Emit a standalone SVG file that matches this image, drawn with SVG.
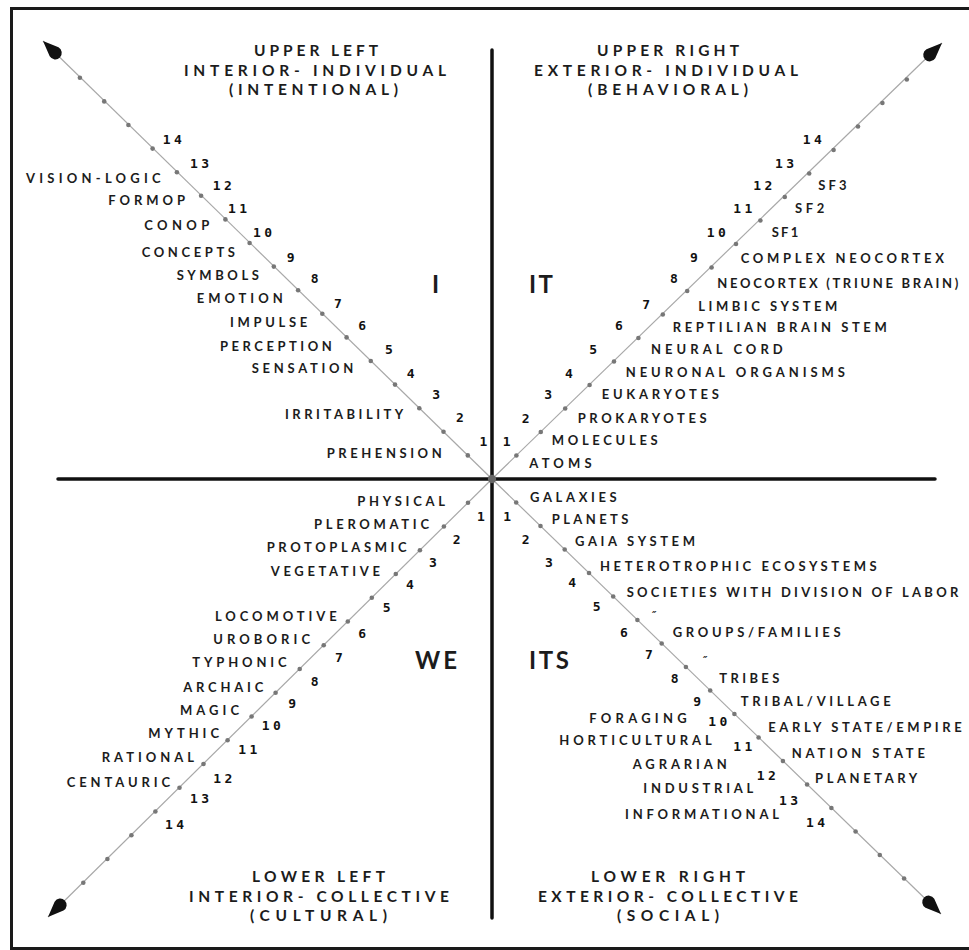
<svg xmlns="http://www.w3.org/2000/svg" width="969" height="950" viewBox="0 0 969 950">
<style>
text{font-family:Lato,"Open Sans","Liberation Sans",sans-serif;font-weight:700;fill:#1c1c1c}
.h{font-size:15.5px}
.l{font-size:13px}
.n{font-family:"DejaVu Sans Mono","Liberation Mono",monospace;font-size:13px;letter-spacing:3.5px;fill:#111}
.big{font-size:24px}
.ditto{font-family:"DejaVu Sans",sans-serif;font-size:10px;font-style:italic}
.diag{stroke:#a8a8a8;stroke-width:1.2;fill:none;marker-end:url(#arr)}
.dot{fill:#777}
.axis{stroke:#111;stroke-width:3.5;stroke-linecap:round}
</style>
<defs>
<marker id="arr" markerUnits="userSpaceOnUse" orient="auto" viewBox="-25 -8 27 16" markerWidth="27" markerHeight="16" refX="0" refY="0">
<path d="M0,0 L-15.5,-6.3 A6.5,6.5 0 1 0 -15.5,6.3 Z" fill="#111"/>
</marker>
</defs>
<rect x="11.5" y="8.5" width="975" height="940" fill="#fff" stroke="#1a1a1a" stroke-width="3"/>

<g id="connectors">
<line class="axis" x1="492" y1="50" x2="492" y2="918"/>
<line class="axis" x1="58" y1="479" x2="935" y2="479"/>
<line class="diag" x1="492" y1="479" x2="43" y2="41"/>
<line class="diag" x1="492" y1="479" x2="942" y2="43"/>
<line class="diag" x1="492" y1="479" x2="48" y2="917"/>
<line class="diag" x1="492" y1="479" x2="941" y2="914"/>
<g id="dots-ul" class="dot">
<circle cx="467.8" cy="455.4" r="2.3"/><circle cx="443.5" cy="431.8" r="2.3"/><circle cx="419.3" cy="408.2" r="2.3"/><circle cx="395" cy="384.6" r="2.3"/><circle cx="370.8" cy="361" r="2.3"/><circle cx="346.6" cy="337.4" r="2.3"/><circle cx="322.3" cy="313.8" r="2.3"/><circle cx="298.1" cy="290.2" r="2.3"/><circle cx="273.8" cy="266.6" r="2.3"/><circle cx="249.6" cy="243" r="2.3"/><circle cx="225.4" cy="219.4" r="2.3"/><circle cx="201.1" cy="195.8" r="2.3"/><circle cx="176.9" cy="172.2" r="2.3"/><circle cx="152.6" cy="148.6" r="2.3"/><circle cx="128.4" cy="125" r="2.3"/><circle cx="104.2" cy="101.4" r="2.3"/><circle cx="79.9" cy="77.8" r="2.3"/>
</g>
<g id="dots-ur" class="dot">
<circle cx="516.4" cy="455.5" r="2.3"/><circle cx="540.8" cy="432" r="2.3"/><circle cx="565.2" cy="408.5" r="2.3"/><circle cx="589.6" cy="385" r="2.3"/><circle cx="614" cy="361.5" r="2.3"/><circle cx="638.4" cy="338" r="2.3"/><circle cx="662.8" cy="314.5" r="2.3"/><circle cx="687.2" cy="291" r="2.3"/><circle cx="711.6" cy="267.5" r="2.3"/><circle cx="736" cy="244" r="2.3"/><circle cx="760.4" cy="220.5" r="2.3"/><circle cx="784.8" cy="197" r="2.3"/><circle cx="809.2" cy="173.5" r="2.3"/><circle cx="833.6" cy="150" r="2.3"/><circle cx="858" cy="126.5" r="2.3"/><circle cx="882.4" cy="103" r="2.3"/><circle cx="906.8" cy="79.5" r="2.3"/>
</g>
<g id="dots-ll" class="dot">
<circle cx="468" cy="502.8" r="2.3"/><circle cx="443.9" cy="526.5" r="2.3"/><circle cx="419.9" cy="550.3" r="2.3"/><circle cx="395.8" cy="574" r="2.3"/><circle cx="371.8" cy="597.8" r="2.3"/><circle cx="347.8" cy="621.5" r="2.3"/><circle cx="323.7" cy="645.3" r="2.3"/><circle cx="299.7" cy="669" r="2.3"/><circle cx="275.6" cy="692.8" r="2.3"/><circle cx="251.6" cy="716.5" r="2.3"/><circle cx="227.6" cy="740.3" r="2.3"/><circle cx="203.5" cy="764" r="2.3"/><circle cx="179.5" cy="787.8" r="2.3"/><circle cx="155.4" cy="811.5" r="2.3"/><circle cx="131.4" cy="835.3" r="2.3"/><circle cx="107.4" cy="859" r="2.3"/><circle cx="83.3" cy="882.8" r="2.3"/>
</g>
<g id="dots-lr" class="dot">
<circle cx="516.2" cy="502.5" r="2.3"/><circle cx="540.5" cy="526" r="2.3"/><circle cx="564.7" cy="549.5" r="2.3"/><circle cx="589" cy="573" r="2.3"/><circle cx="613.2" cy="596.5" r="2.3"/><circle cx="637.4" cy="620" r="2.3"/><circle cx="661.7" cy="643.5" r="2.3"/><circle cx="685.9" cy="667" r="2.3"/><circle cx="710.2" cy="690.5" r="2.3"/><circle cx="734.4" cy="714" r="2.3"/><circle cx="758.6" cy="737.5" r="2.3"/><circle cx="782.9" cy="761" r="2.3"/><circle cx="807.1" cy="784.5" r="2.3"/><circle cx="831.4" cy="808" r="2.3"/><circle cx="855.6" cy="831.5" r="2.3"/><circle cx="879.8" cy="855" r="2.3"/><circle cx="904.1" cy="878.5" r="2.3"/>
</g>
<circle cx="492" cy="479" r="4.2" fill="#666"/>
</g>

<g id="upper-left">
<g id="ul-title">
<text class="h" x="254" y="56" textLength="124" lengthAdjust="spacing">UPPER LEFT</text>
<text class="h" x="184" y="76" textLength="262" lengthAdjust="spacing">INTERIOR- INDIVIDUAL</text>
<text class="h" x="229" y="95" textLength="169" lengthAdjust="spacing">(INTENTIONAL)</text>
</g>
<text class="big" x="432" y="293">I</text>
<g id="ul-numbers">
<text class="n" x="162.7" y="144.3">14</text><text class="n" x="190" y="167.7">13</text><text class="n" x="212.7" y="190">12</text><text class="n" x="228" y="213.3">11</text><text class="n" x="253" y="236.5">10</text><text class="n" x="286.7" y="262.3">9</text><text class="n" x="310.7" y="283.3">8</text><text class="n" x="334" y="308.3">7</text><text class="n" x="358.3" y="330">6</text><text class="n" x="385" y="354.3">5</text><text class="n" x="406.7" y="377.7">4</text><text class="n" x="432.3" y="399.3">3</text><text class="n" x="456" y="422.3">2</text><text class="n" x="479.5" y="446">1</text>
</g>
<g id="ul-labels">
<text class="l" x="26" y="182.7" textLength="134.7" lengthAdjust="spacing">VISION-LOGIC</text>
<text class="l" x="108.3" y="205" textLength="76.7" lengthAdjust="spacing">FORMOP</text>
<text class="l" x="144.3" y="230" textLength="65" lengthAdjust="spacing">CONOP</text>
<text class="l" x="141.7" y="256.7" textLength="93.3" lengthAdjust="spacing">CONCEPTS</text>
<text class="l" x="176.7" y="280" textLength="82.3" lengthAdjust="spacing">SYMBOLS</text>
<text class="l" x="196.7" y="302.7" textLength="86" lengthAdjust="spacing">EMOTION</text>
<text class="l" x="230" y="326.7" textLength="77.3" lengthAdjust="spacing">IMPULSE</text>
<text class="l" x="220" y="350.7" textLength="111.7" lengthAdjust="spacing">PERCEPTION</text>
<text class="l" x="251.7" y="372.7" textLength="101.6" lengthAdjust="spacing">SENSATION</text>
<text class="l" x="285" y="419.3" textLength="118.3" lengthAdjust="spacing">IRRITABILITY</text>
<text class="l" x="326.7" y="457.7" textLength="115" lengthAdjust="spacing">PREHENSION</text>
</g>
</g>

<g id="upper-right">
<g id="ur-title">
<text class="h" x="597" y="56" textLength="142" lengthAdjust="spacing">UPPER RIGHT</text>
<text class="h" x="534" y="76" textLength="264" lengthAdjust="spacing">EXTERIOR- INDIVIDUAL</text>
<text class="h" x="588" y="95" textLength="160" lengthAdjust="spacing">(BEHAVIORAL)</text>
</g>
<text class="big" x="529" y="293" textLength="24" lengthAdjust="spacing">IT</text>
<g id="ur-numbers">
<text class="n" x="802.7" y="144.3">14</text><text class="n" x="775" y="167.7">13</text><text class="n" x="753.3" y="190">12</text><text class="n" x="733.3" y="213.3">11</text><text class="n" x="706.7" y="237">10</text><text class="n" x="690" y="262.3">9</text><text class="n" x="670" y="283.3">8</text><text class="n" x="642.3" y="309">7</text><text class="n" x="615" y="330">6</text><text class="n" x="589.3" y="354.3">5</text><text class="n" x="565" y="377.7">4</text><text class="n" x="544.3" y="399.3">3</text><text class="n" x="521.7" y="422.7">2</text><text class="n" x="502.7" y="446">1</text>
</g>
<g id="ur-labels">
<text class="l" x="818.3" y="190" textLength="28.3" lengthAdjust="spacing">SF3</text>
<text class="l" x="795" y="213.3" textLength="29.3" lengthAdjust="spacing">SF2</text>
<text class="l" x="771.7" y="237" textLength="26.6" lengthAdjust="spacing">SF1</text>
<text class="l" x="740.7" y="263.3" textLength="203.3" lengthAdjust="spacing">COMPLEX NEOCORTEX</text>
<text class="l" x="717.3" y="288.3" textLength="241" lengthAdjust="spacing">NEOCORTEX (TRIUNE BRAIN)</text>
<text class="l" x="698.3" y="311" textLength="139" lengthAdjust="spacing">LIMBIC SYSTEM</text>
<text class="l" x="672.7" y="331.7" textLength="214" lengthAdjust="spacing">REPTILIAN BRAIN STEM</text>
<text class="l" x="651" y="354" textLength="131.7" lengthAdjust="spacing">NEURAL CORD</text>
<text class="l" x="625.7" y="376.7" textLength="219.3" lengthAdjust="spacing">NEURONAL ORGANISMS</text>
<text class="l" x="601.7" y="399.3" textLength="117.3" lengthAdjust="spacing">EUKARYOTES</text>
<text class="l" x="577.7" y="422.7" textLength="129" lengthAdjust="spacing">PROKARYOTES</text>
<text class="l" x="551.7" y="445" textLength="106" lengthAdjust="spacing">MOLECULES</text>
<text class="l" x="529.3" y="468.3" textLength="62.4" lengthAdjust="spacing">ATOMS</text>
</g>
</g>

<g id="lower-left">
<g id="ll-title">
<text class="h" x="252" y="882" textLength="133" lengthAdjust="spacing">LOWER LEFT</text>
<text class="h" x="189" y="902" textLength="260" lengthAdjust="spacing">INTERIOR- COLLECTIVE</text>
<text class="h" x="250" y="921" textLength="137" lengthAdjust="spacing">(CULTURAL)</text>
</g>
<text class="big" x="415" y="669" textLength="42" lengthAdjust="spacing">WE</text>
<g id="ll-numbers">
<text class="n" x="477" y="520.5">1</text><text class="n" x="452.7" y="544">2</text><text class="n" x="429" y="567.3">3</text><text class="n" x="406" y="589.3">4</text><text class="n" x="382.7" y="611.7">5</text><text class="n" x="358.3" y="638.3">6</text><text class="n" x="335" y="662.3">7</text><text class="n" x="310.7" y="685.7">8</text><text class="n" x="288.3" y="708.3">9</text><text class="n" x="261.7" y="730">10</text><text class="n" x="238.3" y="754.3">11</text><text class="n" x="213.3" y="783.3">12</text><text class="n" x="190" y="802.7">13</text><text class="n" x="165" y="829">14</text>
</g>
<g id="ll-labels">
<text class="l" x="357.3" y="505.7" textLength="87.7" lengthAdjust="spacing">PHYSICAL</text>
<text class="l" x="314" y="529" textLength="115" lengthAdjust="spacing">PLEROMATIC</text>
<text class="l" x="266.7" y="552.3" textLength="140" lengthAdjust="spacing">PROTOPLASMIC</text>
<text class="l" x="270.7" y="576" textLength="109.3" lengthAdjust="spacing">VEGETATIVE</text>
<text class="l" x="215" y="620.7" textLength="121.7" lengthAdjust="spacing">LOCOMOTIVE</text>
<text class="l" x="213.3" y="644" textLength="96.7" lengthAdjust="spacing">UROBORIC</text>
<text class="l" x="192.3" y="667.3" textLength="94.4" lengthAdjust="spacing">TYPHONIC</text>
<text class="l" x="183.3" y="691.7" textLength="80" lengthAdjust="spacing">ARCHAIC</text>
<text class="l" x="180" y="715" textLength="59" lengthAdjust="spacing">MAGIC</text>
<text class="l" x="148.3" y="738.3" textLength="70.7" lengthAdjust="spacing">MYTHIC</text>
<text class="l" x="101.7" y="761.7" textLength="92.3" lengthAdjust="spacing">RATIONAL</text>
<text class="l" x="66.7" y="786.7" textLength="103.3" lengthAdjust="spacing">CENTAURIC</text>
</g>
</g>

<g id="lower-right">
<g id="lr-title">
<text class="h" x="591" y="882" textLength="154" lengthAdjust="spacing">LOWER RIGHT</text>
<text class="h" x="538" y="902" textLength="260" lengthAdjust="spacing">EXTERIOR- COLLECTIVE</text>
<text class="h" x="617" y="921" textLength="102" lengthAdjust="spacing">(SOCIAL)</text>
</g>
<text class="big" x="529" y="669" textLength="40" lengthAdjust="spacing">ITS</text>
<g id="lr-numbers">
<text class="n" x="503.3" y="520.5">1</text><text class="n" x="521.7" y="544">2</text><text class="n" x="545" y="567.3">3</text><text class="n" x="568.3" y="587.3">4</text><text class="n" x="592.7" y="610.7">5</text><text class="n" x="620" y="636.7">6</text><text class="n" x="645" y="659.3">7</text><text class="n" x="670.7" y="683.3">8</text><text class="n" x="693.3" y="706">9</text><text class="n" x="708.3" y="726">10</text><text class="n" x="733.3" y="750.7">11</text><text class="n" x="756.7" y="780">12</text><text class="n" x="779" y="805">13</text><text class="n" x="806" y="827.3">14</text>
</g>
<g id="lr-labels">
<text class="l" x="530" y="501.7" textLength="86.7" lengthAdjust="spacing">GALAXIES</text>
<text class="l" x="551.7" y="524" textLength="76.6" lengthAdjust="spacing">PLANETS</text>
<text class="l" x="575" y="546" textLength="120" lengthAdjust="spacing">GAIA SYSTEM</text>
<text class="l" x="600" y="570.7" textLength="276.7" lengthAdjust="spacing">HETEROTROPHIC ECOSYSTEMS</text>
<text class="l" x="626.7" y="596.7" textLength="331.6" lengthAdjust="spacing">SOCIETIES WITH DIVISION OF LABOR</text>
<text class="ditto" x="652" y="619">″</text>
<text class="l" x="672.7" y="636.7" textLength="168" lengthAdjust="spacing">GROUPS/FAMILIES</text>
<text class="ditto" x="703" y="664">″</text>
<text class="l" x="719.3" y="682.7" textLength="60" lengthAdjust="spacing">TRIBES</text>
<text class="l" x="740.7" y="705.7" textLength="150" lengthAdjust="spacing">TRIBAL/VILLAGE</text>
<text class="l" x="589.3" y="723.3" textLength="97.4" lengthAdjust="spacing">FORAGING</text>
<text class="l" x="768.3" y="731.7" textLength="193.4" lengthAdjust="spacing">EARLY STATE/EMPIRE</text>
<text class="l" x="559.3" y="745" textLength="152.4" lengthAdjust="spacing">HORTICULTURAL</text>
<text class="l" x="791.7" y="758.3" textLength="133.3" lengthAdjust="spacing">NATION STATE</text>
<text class="l" x="632.7" y="769" textLength="94" lengthAdjust="spacing">AGRARIAN</text>
<text class="l" x="815" y="782.7" textLength="102.3" lengthAdjust="spacing">PLANETARY</text>
<text class="l" x="643.3" y="793.3" textLength="110" lengthAdjust="spacing">INDUSTRIAL</text>
<text class="l" x="625" y="819" textLength="154" lengthAdjust="spacing">INFORMATIONAL</text>
</g>
</g>
</svg>
